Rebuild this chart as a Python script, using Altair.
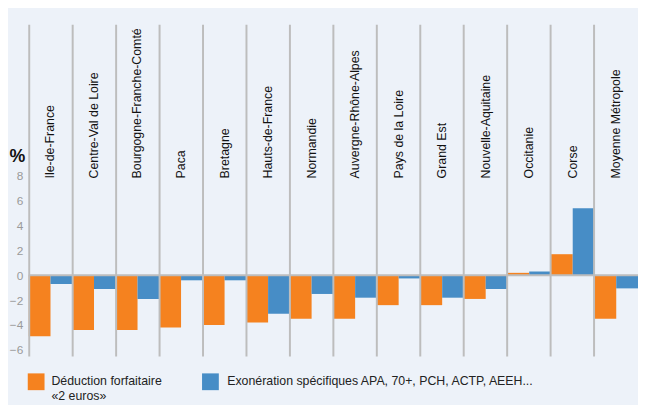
import altair as alt
import pandas as pd

categories = ["Ile-de-France", "Centre-Val de Loire", "Bourgogne-Franche-Comté", "Paca",
              "Bretagne", "Hauts-de-France", "Normandie", "Auvergne-Rhône-Alpes",
              "Pays de la Loire", "Grand Est", "Nouvelle-Aquitaine", "Occitanie",
              "Corse", "Moyenne Métropole"]
deduction = [-4.9, -4.4, -4.4, -4.2, -4.0, -3.8, -3.5, -3.5, -2.4, -2.4, -1.9, 0.2, 1.7, -3.5]
exoneration = [-0.7, -1.1, -1.9, -0.4, -0.4, -3.1, -1.5, -1.8, -0.25, -1.8, -1.1, 0.3, 5.4, -1.05]
series = ["Déduction forfaitaire\n«2 euros»",
          "Exonération spécifiques APA, 70+, PCH, ACTP, AEEH..."]
colors = ["#F5821F", "#478DC6"]
y_ticks = [-6, -4, -2, 0, 2, 4, 6, 8]

rows = []
for c, d, e in zip(categories, deduction, exoneration):
    rows.append({"region": c, "serie": series[0], "value": d})
    rows.append({"region": c, "serie": series[1], "value": e})
df = pd.DataFrame(rows)
lab = pd.DataFrame({"region": categories})
leg = pd.DataFrame({"serie": series})

FONT = "Liberation Sans, Arial, sans-serif"

xscale = alt.Scale(domain=categories, paddingInner=0, paddingOuter=0)
yscale = alt.Scale(domain=[-6.5, 20.2], nice=False, zero=False)
cscale = alt.Scale(domain=series, range=colors)

bars = alt.Chart(df).mark_bar().encode(
    x=alt.X("region:N", scale=xscale, sort=categories,
            axis=alt.Axis(title=None, labels=False, ticks=False, domain=False,
                          grid=True, gridColor="#BDBDBD", gridWidth=2,
                          bandPosition=0, zindex=1)),
    xOffset=alt.XOffset("serie:N", sort=series,
                        scale=alt.Scale(domain=series, paddingInner=0, paddingOuter=0)),
    y=alt.Y("value:Q", scale=yscale,
            axis=alt.Axis(values=y_ticks, title="%", titleAngle=0, titleFont=FONT,
                          titleFontSize=18, titleFontWeight="bold", titleColor="#111",
                          titleX=-12, titleY=134, titleAlign="center", titleBaseline="middle",
                          labelFont=FONT, labelFontSize=12, labelColor="#9A9A9A",
                          labelPadding=6, ticks=False, domain=False, grid=False)),
    color=alt.Color("serie:N", sort=series, scale=cscale, legend=None),
)

zero = alt.Chart(pd.DataFrame({"v": [0]})).mark_rule(color="#BDBDBD", strokeWidth=2).encode(
    y=alt.Y("v:Q", scale=yscale)
)

labels = alt.Chart(lab).mark_text(angle=270, align="left", baseline="middle",
                                  font=FONT, fontSize=12.5, color="#111").encode(
    x=alt.X("region:N", scale=xscale, sort=categories),
    y=alt.datum(7.8),
    text="region:N",
)

# legend (manual, bottom)
legend_layers = []
for s, sx, tx in zip(series, [7.5, 184], [23, 201]):
    base = alt.Chart(leg).transform_filter(alt.datum.serie == s)
    legend_layers.append(
        base.mark_square(size=289, opacity=1).encode(
            x=alt.value(sx), y=alt.value(362),
            color=alt.Color("serie:N", scale=cscale, legend=None))
    )
    legend_layers.append(
        base.mark_text(align="left", baseline="middle", lineBreak="\n", lineHeight=14.5,
                       font=FONT, fontSize=12.5, color="#222").encode(
            x=alt.value(tx), y=alt.value(361.5), text="serie:N")
    )

chart = alt.layer(bars, zero, labels, *legend_layers).properties(
    width=617, height=336,
    background="#EDF2F9",
    autosize=alt.AutoSizeParams(type="none"),
    padding={"left": 21, "top": 14, "right": 0, "bottom": 47},
).configure_view(stroke=None)

chart.save("out.html", embed_options={"renderer": "svg", "actions": False})
